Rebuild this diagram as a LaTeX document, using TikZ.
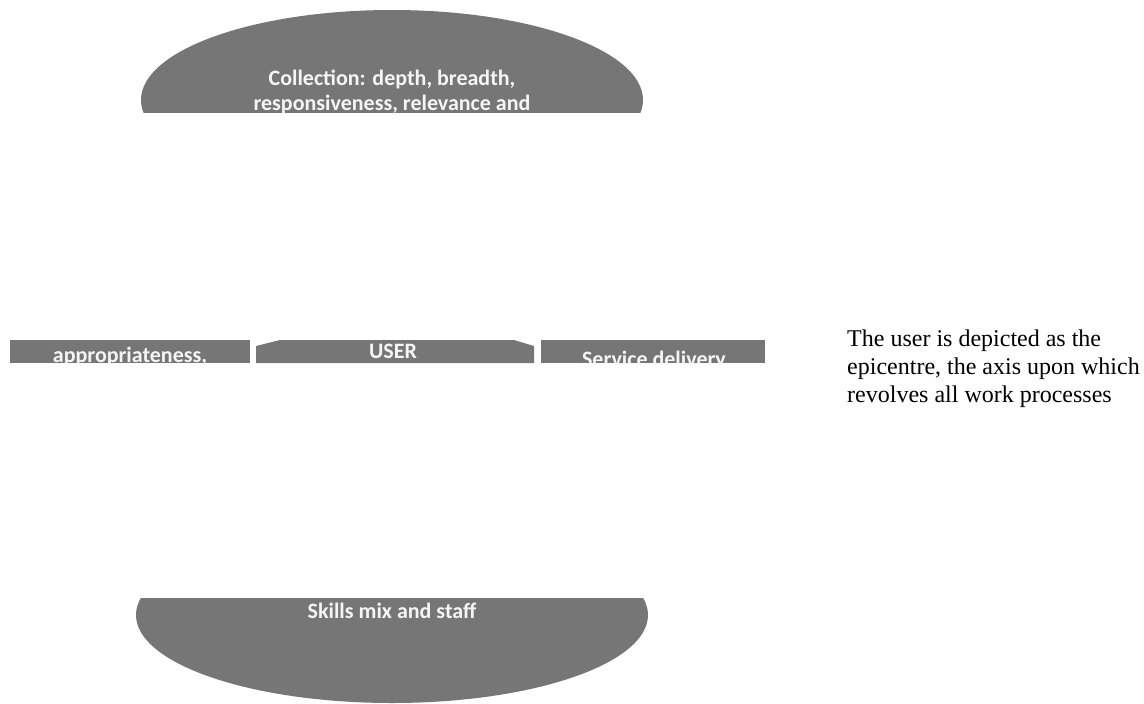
\documentclass[tikz,border=0pt]{standalone}
\usepackage{fontspec}
\setmainfont{Liberation Serif}
\newfontfamily\blobfont{Carlito}
\usetikzlibrary{positioning,shapes.geometric}
\definecolor{blobgrey}{RGB}{118,118,118}
\definecolor{blobtext}{RGB}{245,245,245}

\begin{document}
\begin{tikzpicture}[x=1pt,y=-1pt,
	blob/.style={fill=blobgrey,draw=none,inner sep=0pt},
	blobtxt/.style={text=blobtext,font=\blobfont\bfseries\fontsize{22}{25}\selectfont,align=center,inner sep=0pt,anchor=base},
	notetxt/.style={font=\fontsize{24}{28}\selectfont,align=left,inner sep=0pt,anchor=north west}]
	\useasboundingbox (0,0) rectangle (1144,704);
	
	% top: collection (cut off below)
	\begin{scope}
		\clip (0,0) rectangle (1144,112);
		\node[blob,ellipse,minimum width=502,minimum height=180] (collection) at (392,100) {};
		\node[blobtxt] (collectiontxt) at (392,110) {Collection: depth, breadth,\\responsiveness, relevance and};
	\end{scope}
	
	% middle row
	\begin{scope}
		\clip (0,340) rectangle (800,363);
		\node[blob,minimum width=240,minimum height=23,anchor=north west] (approp) at (10,340) {};
		\fill[blobgrey] (256,363) -- (256,346) -- (280,340) -- (514,340) -- (534,346) -- (534,363) -- cycle;
		\coordinate (user) at (393,340);
		\node[blob,minimum width=224,minimum height=23,anchor=north west] (service) at (541,340) {};
		\node[blobtxt] (approptxt) at (130,362) {appropriateness,};
		\node[blobtxt] (usertxt) at (393,358) {USER};
		\node[blobtxt] (servicetxt) at (654,366) {Service delivery};
	\end{scope}
	
	% bottom: skills (cut off above)
	\begin{scope}
		\clip (0,598) rectangle (1144,704);
		\node[blob,ellipse,minimum width=512,minimum height=176] (skills) at (392,615) {};
		\node[blobtxt] (skillstxt) at (392,618) {Skills mix and staff};
	\end{scope}
	
	% note on the right
	\node[notetxt] (note) at (847,330) {The user is depicted as the\\epicentre, the axis upon which\\revolves all work processes};
\end{tikzpicture}
\end{document}
